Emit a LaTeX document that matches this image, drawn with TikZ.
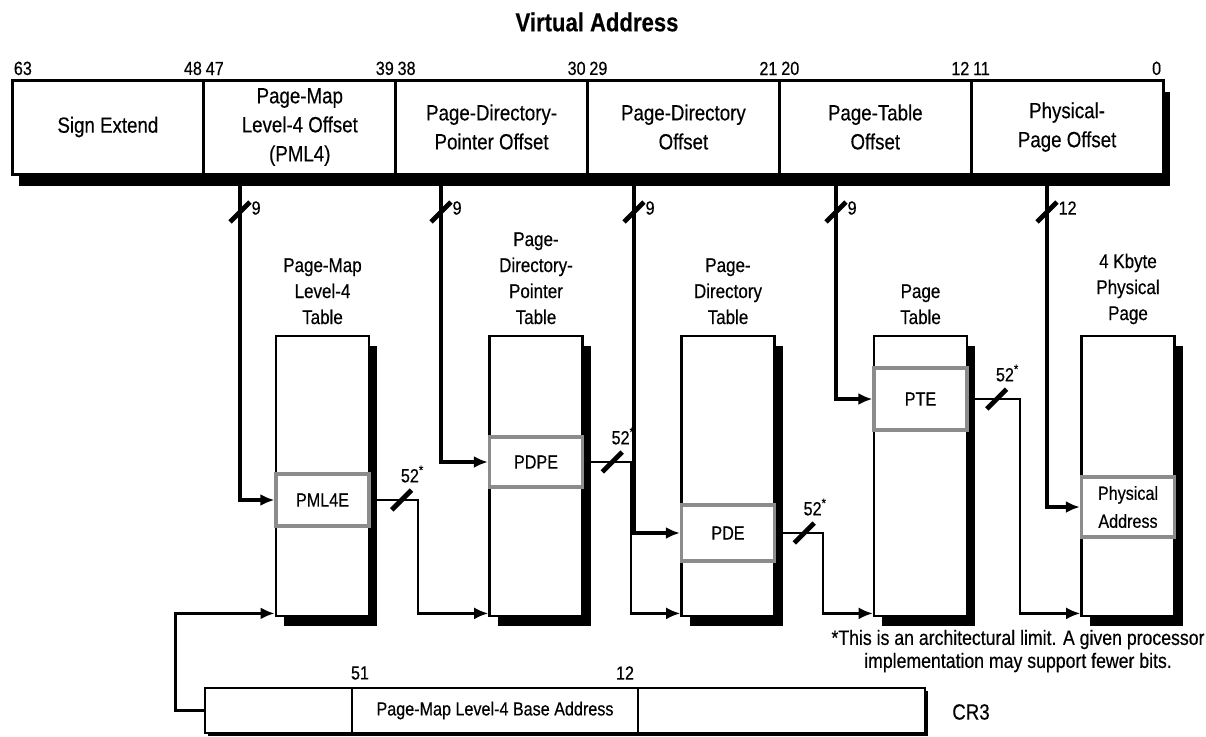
\documentclass[tikz,border=0pt]{standalone}
\usepackage{fontspec}
\setmainfont{Liberation Sans}[FakeStretch=0.85, FakeBold=0.4]
\usetikzlibrary{positioning, arrows.meta, shadows}

\begin{document}
\begin{tikzpicture}[x=0.5pt, y=-0.5pt, >={Latex[length=7pt,width=6pt]},
    field/.style={draw, line width=1.5pt, fill=white, minimum width=95.9pt, minimum height=47pt, align=center, inner sep=0pt, font=\fontsize{11}{14.5}\selectfont,
      drop shadow={shadow xshift=3.5pt, shadow yshift=-6pt, fill=black, opacity=1}},
    tbl/.style={draw, line width=1.4pt, fill=white, minimum width=46.5pt, minimum height=140pt, inner sep=0pt,
      drop shadow={shadow xshift=4pt, shadow yshift=-5pt, fill=black, opacity=1}},
    entry/.style={draw=black!45, line width=1.6pt, fill=white, minimum width=46.5pt, inner sep=0pt, align=center, font=\fontsize{9.5}{14}\selectfont},
    crf/.style={draw, line width=1.4pt, fill=white, minimum height=22.5pt, inner sep=0pt, font=\fontsize{9.5}{11}\selectfont,
      drop shadow={shadow xshift=1.5pt, shadow yshift=-1.5pt, fill=black, opacity=1}},
    ttl/.style={anchor=south, align=center, inner sep=0pt, font=\fontsize{10}{13}\selectfont},
    bits/.style={inner sep=1.5pt, font=\fontsize{9.5}{11}\selectfont},
    wlab/.style={anchor=west, inner sep=0pt, font=\fontsize{9.5}{11}\selectfont},
    bus/.style={line width=1.6pt},
    link/.style={line width=1.1pt},
    slash/.style={fill, inner sep=0pt, minimum width=2.4pt, minimum height=14pt, rotate=-45}]

  \useasboundingbox (0,0) rectangle (1206,736);

  \node[font=\bfseries\fontsize{13}{15}\selectfont] (va) at (597,22) {Virtual Address};

  % virtual address fields
  \node[field] (sign) at (107.9,127) {Sign Extend};
  \node[field] (pml4f) at (299.8,127) {Page-Map\\Level-4 Offset\\(PML4)};
  \node[field] (pdpf) at (491.6,127) {Page-Directory-\\Pointer Offset};
  \node[field] (pdf) at (683.4,127) {Page-Directory\\Offset};
  \node[field] (ptf) at (875.3,127) {Page-Table\\Offset};
  \node[field] (ppf) at (1067.1,127) {Physical-\\Page Offset};

  \node[bits, anchor=south west] (b63) at (sign.north west) {63};
  \node[bits, anchor=south east] (b48) at (sign.north east) {48};
  \node[bits, anchor=south west] (b47) at (pml4f.north west) {47};
  \node[bits, anchor=south east] (b39) at (pml4f.north east) {39};
  \node[bits, anchor=south west] (b38) at (pdpf.north west) {38};
  \node[bits, anchor=south east] (b30) at (pdpf.north east) {30};
  \node[bits, anchor=south west] (b29) at (pdf.north west) {29};
  \node[bits, anchor=south east] (b21) at (pdf.north east) {21};
  \node[bits, anchor=south west] (b20) at (ptf.north west) {20};
  \node[bits, anchor=south east] (b12) at (ptf.north east) {12};
  \node[bits, anchor=south west] (b11) at (ppf.north west) {11};
  \node[bits, anchor=south east] (b0) at (ppf.north east) {0};

  % tables
  \node[tbl] (pml4t) at (322.5,476) {};
  \node[tbl] (pdpt) at (536,476) {};
  \node[tbl] (pdt) at (728,476) {};
  \node[tbl] (ptt) at (920.5,476) {};
  \node[tbl] (ppt) at (1128,476) {};

  \node[ttl] (pml4n) at ([yshift=5pt]pml4t.north) {Page-Map\\Level-4\\Table};
  \node[ttl] (pdpn) at ([yshift=5pt]pdpt.north) {Page-\\Directory-\\Pointer\\Table};
  \node[ttl] (pdn) at ([yshift=5pt]pdt.north) {Page-\\Directory\\Table};
  \node[ttl] (ptn) at ([yshift=5pt]ptt.north) {Page\\Table};
  \node[ttl] (ppn) at ([yshift=5pt]ppt.north) {4 Kbyte\\Physical\\Page};

  \node[entry, minimum height=26pt] (pml4e) at (322.5,500) {PML4E};
  \node[entry, minimum height=25pt] (pdpe) at (536,462) {PDPE};
  \node[entry, minimum height=28pt] (pde) at (728,533) {PDE};
  \node[entry, minimum height=31pt] (pte) at (920.5,399) {PTE};
  \node[entry, minimum height=30pt] (phys) at (1128,507) {Physical\\Address};

  % CR3
  \node[crf, minimum width=73.5pt] (cr3a) at (278.5,710.5) {};
  \node[crf, minimum width=143pt] (cr3b) at (495,710.5) {Page-Map Level-4 Base Address};
  \node[crf, minimum width=143.5pt] (cr3c) at (781.5,710.5) {};
  \node[bits] (b51) at (360,673) {51};
  \node[bits] (b12c) at (625,673) {12};
  \node[font=\fontsize{11}{13}\selectfont] (cr3) at (971,712) {CR3};

  \node[align=center, font=\fontsize{10.4}{11.5}\selectfont] (fn) at (1018,651)
    {*This is an architectural limit. A given processor\\implementation may support fewer bits.};

  % index buses
  \coordinate (c1) at (240,174);
  \coordinate (c2) at (441,174);
  \coordinate (c3) at (634,174);
  \coordinate (c4) at (836,174);
  \coordinate (c5) at (1047,174);
  \draw[bus, ->] (c1) -- ++(0,38) node[slash] (s1) {} node[wlab, xshift=5pt, yshift=2pt] (w1) {9} |- (pml4e.west);
  \draw[bus, ->] (c2) -- ++(0,38) node[slash] (s2) {} node[wlab, xshift=5pt, yshift=2pt] (w2) {9} |- (pdpe.west);
  \draw[bus, ->] (c3) -- ++(0,38) node[slash] (s3) {} node[wlab, xshift=5pt, yshift=2pt] (w3) {9} |- (pde.west);
  \draw[bus, ->] (c4) -- ++(0,38) node[slash] (s4) {} node[wlab, xshift=5pt, yshift=2pt] (w4) {9} |- (pte.west);
  \draw[bus, ->] (c5) -- ++(0,38) node[slash] (s5) {} node[wlab, xshift=5pt, yshift=2pt] (w5) {12} |- (phys.west);

  % base addresses
  \draw[bus, ->] (cr3a.west) -- ++(-28,0) |- ([yshift=2pt]pml4t.south west);
  \draw[link, ->] (pml4e.east) -- node[slash, pos=0.66] (s6) {} ++(47,0) |- ([yshift=2pt]pdpt.south west);
  \draw[link, ->] (pdpe.east) -- node[slash, pos=0.6] (s7) {} ++(47,0) |- ([yshift=2pt]pdt.south west);
  \draw[link, ->] (pde.east) -- node[slash, pos=0.6] (s8) {} ++(47,0) |- ([yshift=2pt]ptt.south west);
  \draw[link, ->] (pte.east) -- node[slash, pos=0.55] (s9) {} ++(51,0) |- ([yshift=2pt]ppt.south west);
  \node[bits] (l6) at ([shift={(5.5pt,13pt)}]s6.center) {52\textsuperscript{*}};
  \node[bits] (l7) at ([shift={(5.5pt,13pt)}]s7.center) {52\textsuperscript{*}};
  \node[bits] (l8) at ([shift={(5.5pt,13pt)}]s8.center) {52\textsuperscript{*}};
  \node[bits] (l9) at ([shift={(5.5pt,13pt)}]s9.center) {52\textsuperscript{*}};
\end{tikzpicture}
\end{document}
